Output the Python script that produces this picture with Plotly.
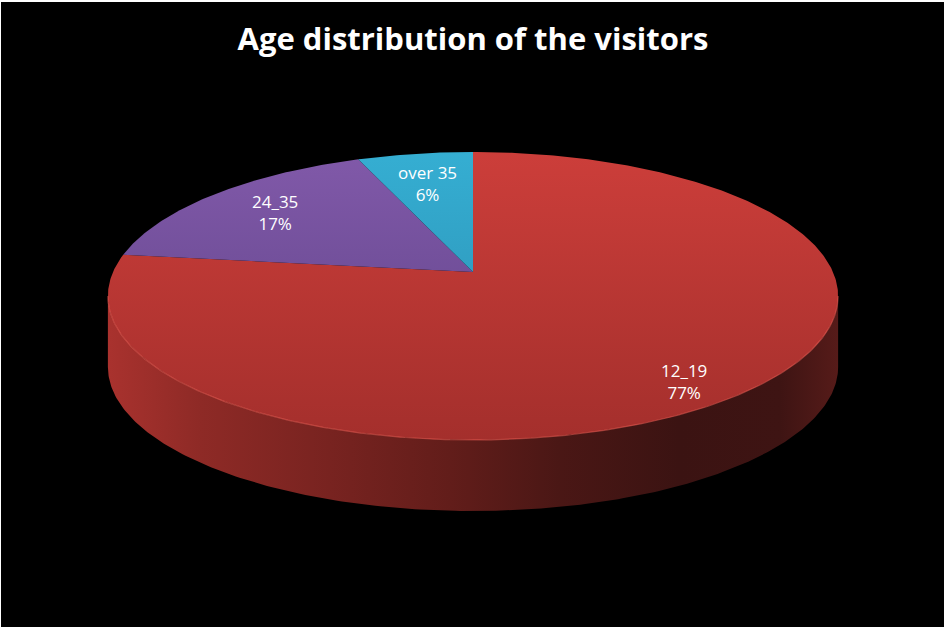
import numpy as np
import plotly.graph_objects as go

# ---- data ----
categories = ["12_19", "24_35", "over 35"]
shares = [77, 17, 6]  # percent, drawn clockwise from 12 o'clock

# ---- style / geometry of the tilted pie ----
slice_colors = [("#cc3e3a", "#a42f2c"), ("#8159a9", "#5c4286"), ("#35aed2", "#2a8baf")]
CX, CY = 473.0, 272.0      # screen point of the pie centre (top face)
A, B = 360.0, 140.0        # horizontal / depth scale of the projected circle
K = 1.0 / 6.0              # perspective strength
DEPTH = 71.0               # thickness of the pie in pixels
LABEL_R = 0.75
W, H = 944, 627
ML, MT = 1, 2              # thin white frame at top/left
FONT = "Open Sans, Lato, sans-serif"


def proj(phi, r=1.0, dy=0.0):
    X = r * np.sin(phi)
    Z = r * np.cos(phi)
    w = 1.0 + K * Z
    return CX + A * X / w, CY - B * Z / w + dy


fig = go.Figure()

# ---- side wall (front half of the rim) ----
phi_edge = np.arccos(-K)
front = np.linspace(phi_edge, 2 * np.pi - phi_edge, 240)
tx, ty = proj(front)
bx, by = proj(front[::-1], dy=DEPTH)
sx = np.concatenate([tx, bx, tx[:1]])
sy = np.concatenate([ty, by, ty[:1]])
side_stops = [(108, "#a9322e"), (200, "#8e2a26"), (330, "#782320"), (450, "#621d1a"),
              (560, "#4a1715"), (680, "#3b1312"), (780, "#3e1413"), (838, "#561b19")]
side_scale = [[(x - 108) / 730.0, c] for x, c in side_stops]
fig.add_trace(go.Scatter(
    x=sx, y=sy, mode="lines", fill="toself", line=dict(width=0),
    fillgradient=dict(type="horizontal", colorscale=side_scale, start=108, stop=838),
    hoverinfo="skip", showlegend=False))

# ---- top face slices ----
total = float(sum(shares))
cum = 0.0
top_y = float(proj(0.0)[1])
bot_y = float(proj(np.pi)[1])
label_pos = []
for name, val, (c0, c1) in zip(categories, shares, slice_colors):
    a0 = 2 * np.pi * cum / total
    a1 = 2 * np.pi * (cum + val) / total
    cum += val
    phis = np.linspace(a0, a1, max(8, int(val * 6)))
    px, py = proj(phis)
    xs = np.concatenate([[CX], px, [CX]])
    ys = np.concatenate([[CY], py, [CY]])
    fig.add_trace(go.Scatter(
        x=xs, y=ys, mode="lines", fill="toself", line=dict(width=0),
        fillgradient=dict(type="vertical", colorscale=[[0, c0], [1, c1]],
                          start=top_y, stop=bot_y),
        hoverinfo="skip", showlegend=False))
    mid = 0.5 * (a0 + a1)
    lx, ly = proj(mid, r=LABEL_R)
    label_pos.append((float(lx), float(ly)))

# highlight along the front rim of the top face
fig.add_trace(go.Scatter(x=tx, y=ty, mode="lines",
                         line=dict(color="rgba(235,95,85,0.55)", width=1.2),
                         hoverinfo="skip", showlegend=False))

# ---- labels ----
label_shift = [(14, 23), (0, 0), (0, 3)]
for name, val, (lx, ly), (dx, dy) in zip(categories, shares, label_pos, label_shift):
    fig.add_annotation(x=lx, y=ly, xref="x", yref="y", showarrow=False,
                       text=f"{name}<br>{val}%", xshift=dx, yshift=-dy,
                       font=dict(family=FONT, size=17, color="white"),
                       align="center")

fig.update_layout(
    width=W, height=H,
    margin=dict(l=ML, r=0, t=MT, b=0, pad=0),
    paper_bgcolor="white", plot_bgcolor="black",
    title=dict(text="<b>Age distribution of the visitors</b>",
               x=473 / W, xanchor="center",
               y=1 - 39 / H, yanchor="middle", yref="container",
               font=dict(family=FONT, size=31, color="white")),
    xaxis=dict(range=[ML, W], visible=False, fixedrange=True),
    yaxis=dict(range=[H, MT], visible=False, fixedrange=True),
    showlegend=False,
)

fig.write_html(
    "out.html",
    config={"displayModeBar": False},
    post_script="document.body.style.margin='0';document.body.style.padding='0';"
                "document.body.style.overflow='hidden';document.body.style.background='black';",
)
